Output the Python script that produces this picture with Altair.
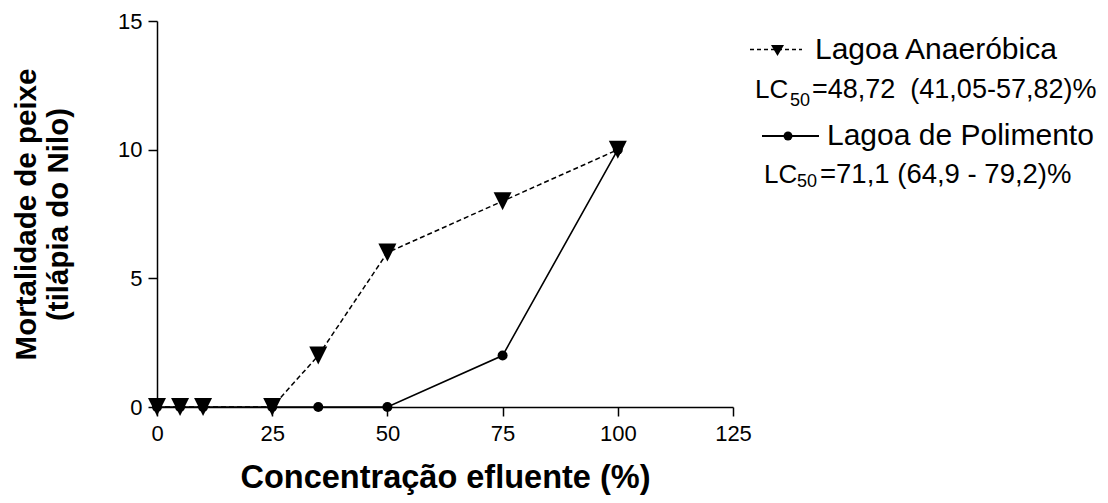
import altair as alt
import pandas as pd

# ---- data ----
conc = [0, 5, 10, 25, 35, 50, 75, 100]
anaerobica = [0, 0, 0, 0, 2, 6, 8, 10]
polimento = [0, 0, 0, 0, 0, 0, 2, 10]

x_ticks = [0, 25, 50, 75, 100, 125]
y_ticks = [0, 5, 10, 15]

x_title = "Concentração efluente (%)"
y_title = ["Mortalidade de peixe", "(tilápia do Nilo)"]

leg1_label = "Lagoa Anaeróbica"
leg1_rest = "=48,72\u00a0\u00a0(41,05-57,82)%"
leg2_label = "Lagoa de Polimento"
leg2_rest = "=71,1 (64,9 - 79,2)%"

df_a = pd.DataFrame({"conc": conc, "mort": anaerobica})
df_p = pd.DataFrame({"conc": conc, "mort": polimento})
dummy = pd.DataFrame({"k": [0]})

FONT = "Liberation Sans"
W, H = 576, 386
TRI = "M-1,-1L1,-1L0,1Z"

x = alt.X("conc:Q",
          scale=alt.Scale(domain=[0, 125], nice=False, zero=False),
          axis=alt.Axis(values=x_ticks, title=x_title, labelFontSize=22,
                        tickSize=9, labelPadding=7, labelFlush=False,
                        titleFontSize=32.5, titleFontWeight="bold", titlePadding=17))
y = alt.Y("mort:Q",
          scale=alt.Scale(domain=[0, 15], nice=False),
          axis=alt.Axis(values=y_ticks, title=y_title, labelFontSize=22,
                        tickSize=9, labelPadding=6, labelFlush=False,
                        titleFontSize=29.5, titleFontWeight="bold", titleLineHeight=32,
                        titlePadding=44))

line_p = alt.Chart(df_p).mark_line(color="black", strokeWidth=1.6).encode(x=x, y=y)
pts_p = alt.Chart(df_p).mark_point(shape="circle", filled=True, size=100,
                                   color="black", opacity=1).encode(x=x, y=y)
line_a = alt.Chart(df_a).mark_line(color="black", strokeWidth=1.5,
                                   strokeDash=[5, 3]).encode(x=x, y=y)
pts_a = alt.Chart(df_a).mark_point(shape=TRI, filled=True, size=324,
                                   color="black", opacity=1).encode(x=x, y=y)

def txt(s, px, py, size):
    return alt.Chart(dummy).mark_text(text=s, font=FONT, fontSize=size, align="left",
                                      baseline="alphabetic", color="black").encode(
        x=alt.value(px), y=alt.value(py))

legend = [
    alt.Chart(dummy).mark_rule(color="black", strokeWidth=1.3, strokeDash=[4, 3]).encode(
        x=alt.value(593), x2=alt.value(645), y=alt.value(28.5)),
    alt.Chart(dummy).mark_point(shape="M-1,-0.85L1,-0.85L0,0.85Z", filled=True, size=169,
                                color="black", opacity=1).encode(
        x=alt.value(620.5), y=alt.value(29.5)),
    txt(leg1_label, 658, 38, 30),
    txt("LC", 598, 77, 26),
    txt("50", 633, 85, 18),
    txt(leg1_rest, 655, 77, 27),
    alt.Chart(dummy).mark_rule(color="black", strokeWidth=1.8).encode(
        x=alt.value(605), x2=alt.value(662), y=alt.value(115)),
    alt.Chart(dummy).mark_point(shape="circle", filled=True, size=80,
                                color="black", opacity=1).encode(
        x=alt.value(631), y=alt.value(115)),
    txt(leg2_label, 670, 124, 30),
    txt("LC", 607, 162, 26),
    txt("50", 640, 165.5, 18),
    txt(leg2_rest, 663, 162, 27.5),
]

chart = alt.layer(line_p, pts_p, line_a, pts_a, *legend).properties(
    width=W, height=H,
    autosize=alt.AutoSizeParams(type="none"),
    padding={"left": 157, "top": 21, "right": 375, "bottom": 96},
    background="white",
).configure_view(stroke=None).configure_axis(
    grid=False, domainColor="black", domainWidth=1.5, tickColor="black",
    tickWidth=1.5, labelColor="black", titleColor="black",
    labelFont=FONT, titleFont=FONT,
)

chart.save("out.html", embed_options={"renderer": "svg", "actions": False})
